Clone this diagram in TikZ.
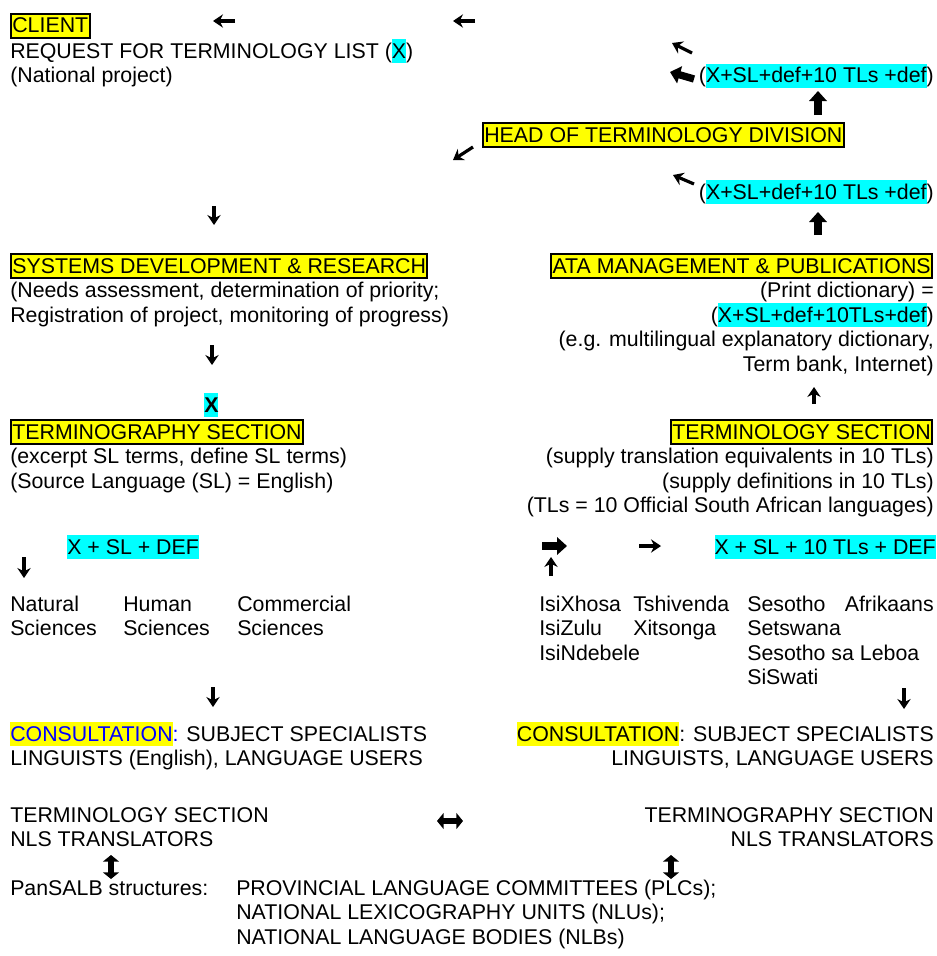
\documentclass[tikz,border=0pt]{standalone}
\usepackage{fontspec}
\setmainfont{Liberation Sans}
\usetikzlibrary{arrows.meta}

\definecolor{hlcyan}{RGB}{0,255,255}
\definecolor{hlyellow}{RGB}{255,255,0}
\definecolor{consblue}{RGB}{0,0,255}

% highlighted pieces of text
\newcommand{\hlc}[1]{{\setlength{\fboxsep}{0pt}\colorbox{hlcyan}{\rule[-3.4pt]{0pt}{17.8pt}#1}}}
\newcommand{\hly}[1]{{\setlength{\fboxsep}{0pt}\colorbox{hlyellow}{\rule[-3.4pt]{0pt}{17.8pt}#1}}}

\tikzset{
  every node/.style={font=\fontsize{16}{18.4}\selectfont, inner sep=0pt},
  lft/.style={anchor=base west},
  rgt/.style={anchor=base east},
  boxed/.style={draw, line width=1.5pt, fill=hlyellow, inner xsep=1pt, text height=14.4pt, text depth=3.4pt},
  hlnode/.style={fill=hlcyan, text height=14.4pt, text depth=3.4pt},
  arr/.style={line width=2.4pt, -{Stealth[length=7.5pt,width=10pt,inset=2.5pt]}},
  blockarr/.style={line width=5.5pt, -{Triangle[length=7.5pt,width=13pt]}},
  dblarr/.style={line width=4.5pt, {Triangle[length=5pt,width=12pt]}-{Triangle[length=5pt,width=12pt]}},
}

\begin{document}
\begin{tikzpicture}[x=0.75pt, y=-0.75pt]
\useasboundingbox (0,0) rectangle (937,956);

    % client request
    \node[boxed, lft] (client) at (10,33) {CLIENT};
    \node[lft] (request) at (10,58.5) {REQUEST FOR TERMINOLOGY LIST (\hlc{X})};
    \node[lft] (national) at (10,83) {(National project)};

    % arrows back to the client
    \draw[arr] (235,21) -- (213,21);
    \draw[arr] (475,21) -- (453,21);
    \draw[arr] (692,53) -- (672,43);
    \draw[blockarr] (694,79) -- (670,72);
    \node[rgt] (outa) at (934,83) {(\hlc{X+SL+def+10 TLs +def})};
    \draw[blockarr] (818,115) -- (818,91);

    % head of division
    \node[boxed, lft] (head) at (482,142) {HEAD OF TERMINOLOGY DIVISION};
    \draw[arr] (473,147) -- (453,160);
    \draw[arr] (694,184) -- (673,175);
    \node[rgt] (outb) at (934,199) {(\hlc{X+SL+def+10 TLs +def})};
    \draw[blockarr] (818,235) -- (818,212);
    \draw[arr] (214,206) -- (214,225);

    % systems development
    \node[boxed, lft] (sysdev) at (10,273) {SYSTEMS DEVELOPMENT \& RESEARCH};
    \node[lft] (needs) at (10,297.5) {(Needs assessment, determination of priority;};
    \node[lft] (regist) at (10,322) {Registration of project, monitoring of progress)};
    \draw[arr] (212,345) -- (212,365);
    \node[hlnode, lft] (xmark) at (204,412) {\textbf{X}};

    % terminography section
    \node[boxed, lft] (termgr) at (10,439) {TERMINOGRAPHY SECTION};
    \node[lft] (excerpt) at (10,463.5) {(excerpt SL terms, define SL terms)};
    \node[lft] (source) at (10,488) {(Source Language (SL) = English)};

    % ata management
    \node[boxed, rgt] (ata) at (933,273) {ATA MANAGEMENT \& PUBLICATIONS};
    \node[rgt] (print) at (934,297.5) {(Print dictionary) =};
    \node[rgt] (dict) at (934,322) {(\hlc{X+SL+def+10TLs+def})};
    \node[rgt] (eg) at (934,346.5) {(e.g. multilingual explanatory dictionary,};
    \node[rgt] (termbank) at (934,371) {Term bank, Internet)};
    \draw[arr] (814,404) -- (814,387);

    % terminology section
    \node[boxed, rgt] (termsec) at (933,439) {TERMINOLOGY SECTION};
    \node[rgt] (supplya) at (934,463.5) {(supply translation equivalents in 10 TLs)};
    \node[rgt] (supplyb) at (934,488) {(supply definitions in 10 TLs)};
    \node[rgt] (tls) at (934,512.5) {(TLs = 10 Official South African languages)};

    % source language output
    \node[hlnode, lft] (xsl) at (67,554) {X + SL + DEF};
    \draw[arr] (24,557) -- (24,578);
    \node[lft] (natsci) at (10,611) {Natural};
    \node[lft] at (10,635.5) {Sciences};
    \node[lft] (humsci) at (123,611) {Human};
    \node[lft] at (123,635.5) {Sciences};
    \node[lft] (comsci) at (237,611) {Commercial};
    \node[lft] at (237,635.5) {Sciences};
    \draw[arr] (213,687) -- (213,707);

    % target language output
    \draw[blockarr] (542,546) -- (567,546);
    \draw[arr] (551,576) -- (551,557);
    \draw[arr] (639,546) -- (661,546);
    \node[hlnode, rgt] (xtl) at (936,554) {X + SL + 10 TLs + DEF};
    \foreach \lang [count=\i] in {IsiXhosa, IsiZulu, IsiNdebele}
      \node[lft] (lnga\i) at (539,586.5+24.5*\i) {\lang};
    \foreach \lang [count=\i] in {Tshivenda, Xitsonga}
      \node[lft] (lngb\i) at (633,586.5+24.5*\i) {\lang};
    \foreach \lang [count=\i] in {Sesotho, Setswana, Sesotho sa Leboa, SiSwati}
      \node[lft] (lngc\i) at (747,586.5+24.5*\i) {\lang};
    \node[rgt] (lngd1) at (934,611) {Afrikaans};
    \draw[arr] (904,688) -- (904,709);

    % consultation
    \node[lft] (consl) at (10,741) {\hly{\color{consblue}CONSULTATION}{\color{consblue}:} SUBJECT SPECIALISTS};
    \node[lft] (lingl) at (10,765.5) {LINGUISTS (English), LANGUAGE USERS};
    \node[rgt] (consr) at (934,741) {\hly{CONSULTATION}: SUBJECT SPECIALISTS};
    \node[rgt] (lingr) at (934,765.5) {LINGUISTS, LANGUAGE USERS};

    % translators
    \node[lft] (termsecb) at (10,822) {TERMINOLOGY SECTION};
    \node[lft] (nlsl) at (10,846.5) {NLS TRANSLATORS};
    \node[rgt] (termgrb) at (934,822) {TERMINOGRAPHY SECTION};
    \node[rgt] (nlsr) at (934,846.5) {NLS TRANSLATORS};
    \draw[dblarr] (437,821) -- (463,821);
    \draw[dblarr] (111,855) -- (111,879);
    \draw[dblarr] (671,855) -- (671,879);

    % pansalb structures
    \node[lft] (pansalb) at (10,895) {PanSALB structures:};
    \node[lft] (plc) at (236,895) {PROVINCIAL LANGUAGE COMMITTEES (PLCs);};
    \node[lft] (nlu) at (236,919.5) {NATIONAL LEXICOGRAPHY UNITS (NLUs);};
    \node[lft] (nlb) at (236,944) {NATIONAL LANGUAGE BODIES (NLBs)};

\end{tikzpicture}
\end{document}
